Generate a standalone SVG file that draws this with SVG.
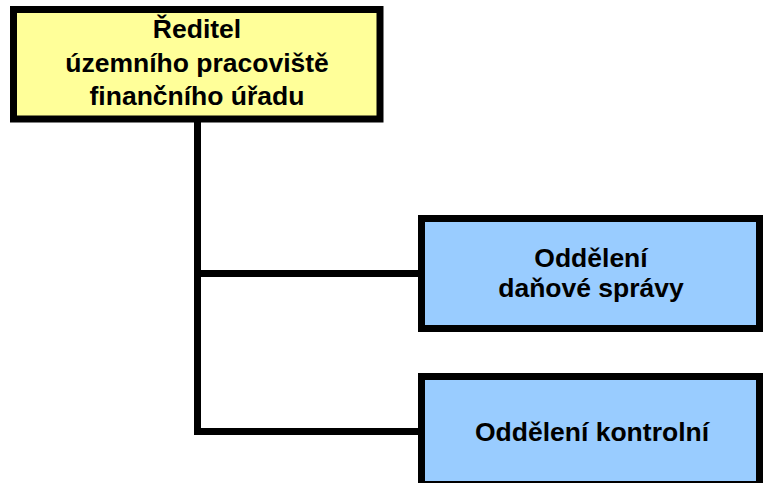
<svg xmlns="http://www.w3.org/2000/svg" width="763" height="483" viewBox="0 0 763 483">
<style>
.box{stroke:#000;stroke-width:7}
.yel{fill:#FFFF99}
.blu{fill:#99CCFF}
.t{font-family:"Liberation Sans",Arial,sans-serif;font-weight:bold;font-size:26.5px;fill:#000;text-anchor:middle}
.c{fill:none;stroke:#000;stroke-width:7}
</style>
<rect width="763" height="483" fill="#fff"/>
<g id="connectors">
<path class="c" d="M197.5 122 V431.5 H418"/>
<path class="c" d="M197.5 273.5 H418"/>
</g>
<g id="reditel">
<rect class="box yel" x="13.5" y="9.5" width="366.5" height="109.5"/>
<text class="t" x="197" y="38">Ředitel</text>
<text class="t" x="197" y="71.5">územního pracoviště</text>
<text class="t" x="197" y="105">finančního úřadu</text>
</g>
<g id="dane">
<rect class="box blu" x="421.5" y="218.5" width="338" height="110"/>
<text class="t" x="591" y="267.3">Oddělení</text>
<text class="t" x="591" y="296.7">daňové správy</text>
</g>
<g id="kontrola">
<rect class="box blu" x="421.5" y="376.5" width="338" height="108"/>
<text class="t" x="592" y="441">Oddělení kontrolní</text>
</g>
</svg>
